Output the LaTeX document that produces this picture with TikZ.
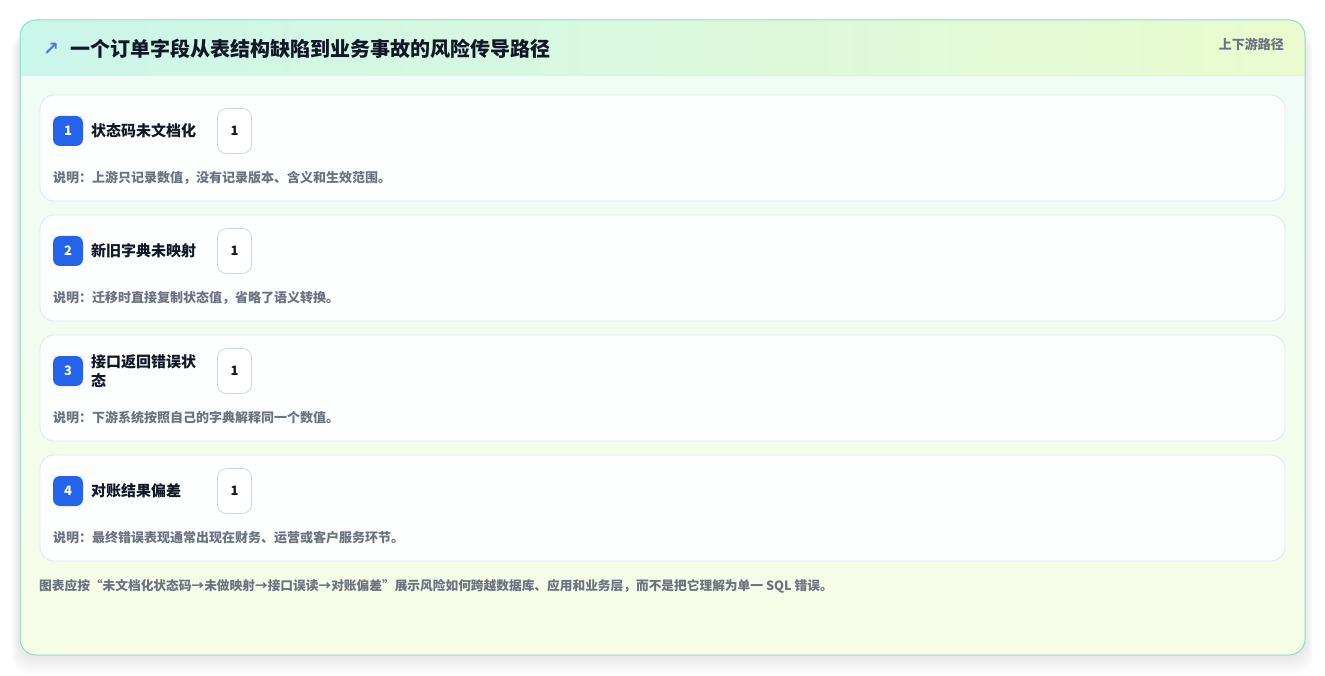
\documentclass[tikz,border=0pt]{standalone}
\usepackage{fontspec}
\setmainfont{Noto Sans CJK SC}
\newfontfamily\symfont{DejaVu Sans}
\usepackage{tikz}
\usetikzlibrary{positioning, calc}
\usepackage{xcolor}
\definecolor{frameline}{HTML}{86E0CF}
\definecolor{headleft}{HTML}{CBF6EA}
\definecolor{headright}{HTML}{EAFBCF}
\definecolor{bodytop}{HTML}{EFFCF8}
\definecolor{bodybottom}{HTML}{F6FDE6}
\definecolor{cardline}{HTML}{DCE8F4}
\definecolor{cardfill}{HTML}{FDFFFE}
\definecolor{badgeblue}{HTML}{2563EB}
\definecolor{inkdark}{HTML}{111827}
\definecolor{inkgray}{HTML}{6B7280}
\definecolor{boxline}{HTML}{C9D8EE}

\tikzset{
  stagecard/.style={draw=cardline, fill=cardfill, line width=0.8pt, rounded corners=14pt},
  badge/.style={fill=badgeblue, rounded corners=7pt, minimum width=30pt, minimum height=30pt,
    inner sep=0pt, text=white, font=\fontsize{13}{15}\selectfont\bfseries},
  stagetitle/.style={anchor=west, inner sep=0pt, text=inkdark, align=left,
    font=\fontsize{15}{19}\selectfont\bfseries},
  countbox/.style={draw=boxline, fill=white, line width=0.8pt, rounded corners=9pt,
    minimum width=34pt, minimum height=45pt, inner sep=0pt, text=inkdark,
    font=\fontsize{13}{15}\selectfont\bfseries},
  note/.style={anchor=west, inner sep=0pt, text=inkgray, font=\fontsize{13}{15}\selectfont\bfseries}
}

\begin{document}
\begin{tikzpicture}[x=1pt,y=-1pt]
\useasboundingbox (0,0) rectangle (1325,676);
\fill[white] (0,0) rectangle (1325,676);
% shadow
\foreach \i in {1,...,12}
  \fill[black, opacity=0.006, rounded corners=18pt] (20-0.7*\i,32) rectangle (1305+0.7*\i,655+1.6*\i);
% panel
\shade[top color=bodytop, bottom color=bodybottom, rounded corners=16pt] (20,20) rectangle (1305,655);
\begin{scope}
  \clip[rounded corners=16pt] (20,20) rectangle (1305,655);
  \shade[left color=headleft, right color=headright] (20,20) rectangle (1305,75);
\end{scope}
\draw[cardline!70!headright, line width=0.8pt] (20,75) -- (1305,75);
\draw[frameline, line width=1pt, rounded corners=16pt] (20,20) rectangle (1305,655);
% header
\node[text=badgeblue!85, inner sep=0pt, font=\symfont\bfseries\fontsize{19}{19}\selectfont] (icon) at (51,49) {↗};
\node[anchor=west, inner sep=0pt, text=inkdark, font=\fontsize{20}{24}\selectfont\bfseries] (title) at (70,49)
  {一个订单字段从表结构缺陷到业务事故的风险传导路径};
\node[anchor=east, inner sep=0pt, text=inkgray, font=\fontsize{13}{15}\selectfont\bfseries] (scope) at (1284,44) {上下游路径};
% stage 1
\draw[stagecard] (40,95) rectangle (1285,201);
\node[badge] (badge1) at (68,131) {1};
\node[stagetitle] (name1) at (91,131) {状态码未文档化};
\node[countbox] (count1) at (234.5,131) {1};
\node[note] (note1) at (53,178) {说明：上游只记录数值，没有记录版本、含义和生效范围。};
% stage 2
\draw[stagecard] (40,215) rectangle (1285,321);
\node[badge] (badge2) at (68,251) {2};
\node[stagetitle] (name2) at (91,251) {新旧字典未映射};
\node[countbox] (count2) at (234.5,251) {1};
\node[note] (note2) at (53,298) {说明：迁移时直接复制状态值，省略了语义转换。};
% stage 3
\draw[stagecard] (40,335) rectangle (1285,441);
\node[badge] (badge3) at (68,371) {3};
\node[stagetitle] (name3) at (91,371) {接口返回错误状\\态};
\node[countbox] (count3) at (234.5,371) {1};
\node[note] (note3) at (53,418) {说明：下游系统按照自己的字典解释同一个数值。};
% stage 4
\draw[stagecard] (40,455) rectangle (1285,561);
\node[badge] (badge4) at (68,491) {4};
\node[stagetitle] (name4) at (91,491) {对账结果偏差};
\node[countbox] (count4) at (234.5,491) {1};
\node[note] (note4) at (53,538) {说明：最终错误表现通常出现在财务、运营或客户服务环节。};
% footer
\node[note, font=\fontsize{12.7}{15}\selectfont\bfseries] (footer) at (39,586)
  {图表应按“未文档化状态码→未做映射→接口误读→对账偏差”展示风险如何跨越数据库、应用和业务层，而不是把它理解为单一 SQL 错误。};
\end{tikzpicture}
\end{document}
